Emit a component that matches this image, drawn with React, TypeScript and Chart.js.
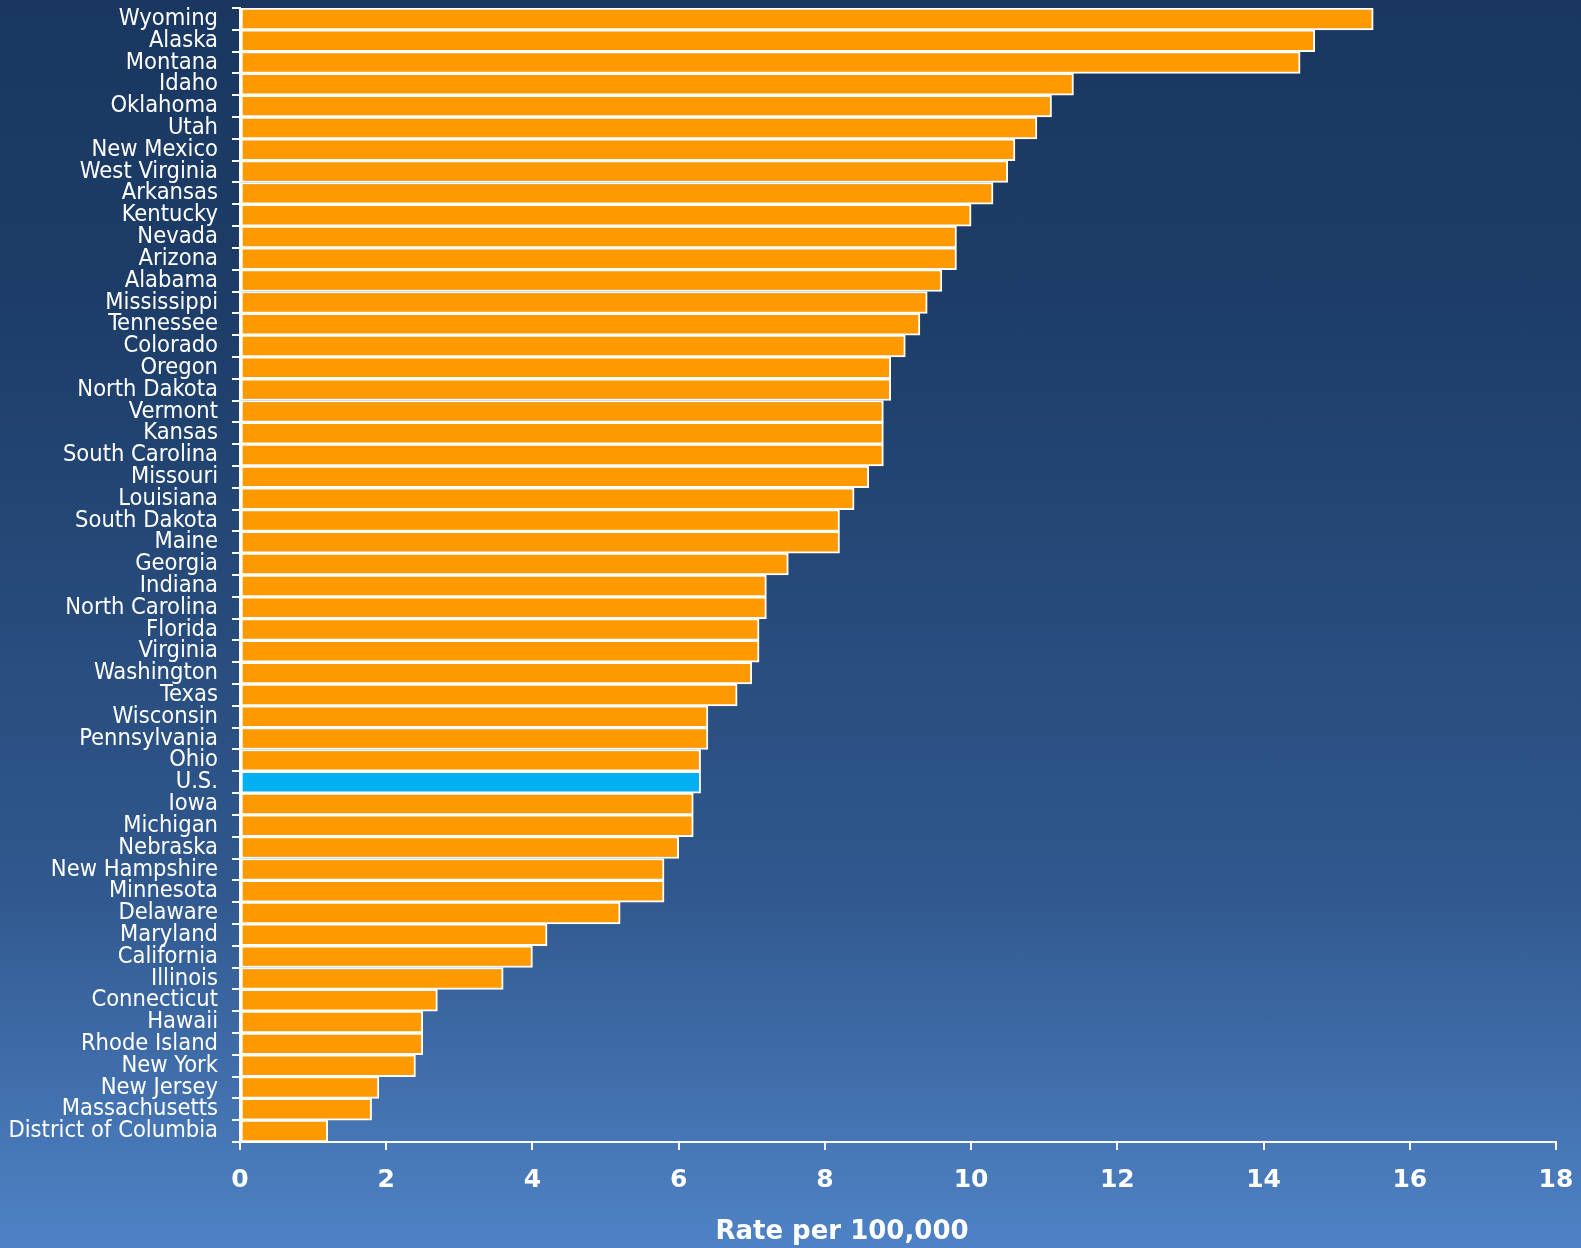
import React, { useEffect, useRef } from "react";
import { Chart, registerables } from "chart.js";

Chart.register(...registerables);

const states: string[] = [
  "Wyoming", "Alaska", "Montana", "Idaho", "Oklahoma", "Utah", "New Mexico", "West Virginia",
  "Arkansas", "Kentucky", "Nevada", "Arizona", "Alabama", "Mississippi", "Tennessee", "Colorado",
  "Oregon", "North Dakota", "Vermont", "Kansas", "South Carolina", "Missouri", "Louisiana",
  "South Dakota", "Maine", "Georgia", "Indiana", "North Carolina", "Florida", "Virginia",
  "Washington", "Texas", "Wisconsin", "Pennsylvania", "Ohio", "U.S.", "Iowa", "Michigan",
  "Nebraska", "New Hampshire", "Minnesota", "Delaware", "Maryland", "California", "Illinois",
  "Connecticut", "Hawaii", "Rhode Island", "New York", "New Jersey", "Massachusetts",
  "District of Columbia",
];

const rates: number[] = [
  15.5, 14.7, 14.5, 11.4, 11.1, 10.9, 10.6, 10.5,
  10.3, 10.0, 9.8, 9.8, 9.6, 9.4, 9.3, 9.1,
  8.9, 8.9, 8.8, 8.8, 8.8, 8.6, 8.4,
  8.2, 8.2, 7.5, 7.2, 7.2, 7.1, 7.1,
  7.0, 6.8, 6.4, 6.4, 6.3, 6.3, 6.2, 6.2,
  6.0, 5.8, 5.8, 5.2, 4.2, 4.0, 3.6,
  2.7, 2.5, 2.5, 2.4, 1.9, 1.8,
  1.2,
];

const xTitle = "Rate per 100,000";
const highlight = "U.S.";

const titlePlugin = {
  id: "bottomTitle",
  afterDraw(chart: any) {
    const { ctx, chartArea } = chart;
    ctx.save();
    ctx.fillStyle = "#FFFFFF";
    ctx.font = "bold 26px 'DejaVu Sans', sans-serif";
    ctx.textAlign = "center";
    ctx.textBaseline = "middle";
    ctx.fillText(xTitle, (chartArea.left + chartArea.right) / 2 - 56, chartArea.bottom + 90);
    ctx.restore();
  },
};

export default function App() {
  const ref = useRef<HTMLCanvasElement | null>(null);

  useEffect(() => {
    document.body.style.margin = "0";
    if (!ref.current) return;
    const chart = new Chart(ref.current, {
      type: "bar",
      data: {
        labels: states,
        datasets: [
          {
            data: rates,
            backgroundColor: states.map((s) => (s === highlight ? "#00B0F0" : "#FF9900")),
            borderColor: "#FFFFFF",
            borderWidth: 2,
            borderSkipped: false,
            barPercentage: 1,
            categoryPercentage: 1,
          },
        ],
      },
      options: {
        indexAxis: "y",
        animation: false,
        responsive: false,
        maintainAspectRatio: false,
        layout: { padding: { top: 8, right: 25, left: 0, bottom: 0 } },
        plugins: {
          legend: { display: false },
          tooltip: { enabled: false },
        },
        scales: {
          x: {
            min: 0,
            max: 18,
            ticks: {
              stepSize: 2,
              color: "#FFFFFF",
              padding: 15,
              font: { family: "'DejaVu Sans', sans-serif", size: 25, weight: "bold" },
            },
            grid: { drawOnChartArea: false, color: "#FFFFFF", tickLength: 8, lineWidth: 2 },
            border: { display: true, color: "#FFFFFF", width: 2 },
            afterFit: (scale: any) => {
              scale.height = 106;
              scale.paddingRight = 0;
              scale.paddingLeft = 0;
            },
          },
          y: {
            type: "category",
            offset: true,
            ticks: {
              color: "#FFFFFF",
              padding: 14,
              autoSkip: false,
              font: { family: "'DejaVu Sans Condensed', 'DejaVu Sans', sans-serif", size: 23.5 },
            },
            grid: { offset: true, drawOnChartArea: false, color: "#FFFFFF", tickLength: 8, lineWidth: 2 },
            border: { display: true, color: "#FFFFFF", width: 2 },
            afterFit: (scale: any) => {
              scale.width = 240;
              scale.paddingTop = 0;
              scale.paddingBottom = 0;
            },
          },
        },
      },
      plugins: [titlePlugin],
    });
    return () => chart.destroy();
  }, []);

  return (
    <div
      style={{
        width: 1581,
        height: 1248,
        background:
          "linear-gradient(to bottom, #193760 0%, #1d3d68 24%, #264a7a 48%, #31598f 72%, #4d80c2 98%, #4f82c4 100%)",
      }}
    >
      <canvas ref={ref} width={1581} height={1248} style={{ display: "block" }} />
    </div>
  );
}
